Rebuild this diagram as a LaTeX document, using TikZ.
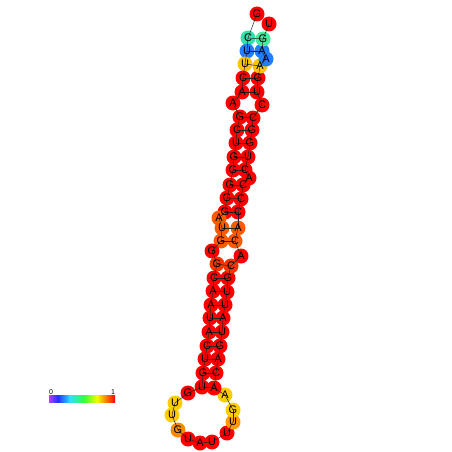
\documentclass[tikz,border=0pt]{standalone}
\usepackage{fontspec}
\setmainfont{Liberation Sans}
\usetikzlibrary{positioning}
\definecolor{Rd}{HTML}{FF0000}
\definecolor{RdOr}{HTML}{FF3300}
\definecolor{Or}{HTML}{FF5A00}
\definecolor{DkOr}{HTML}{FF8800}
\definecolor{LtOr}{HTML}{FF9C00}
\definecolor{Gold}{HTML}{FFC400}
\definecolor{Yel}{HTML}{FFCC00}
\definecolor{Teal}{HTML}{30E2A8}
\definecolor{Mint}{HTML}{40EE9C}
\definecolor{Azure}{HTML}{1E7FFF}
\tikzset{
  nt/.style={circle, inner sep=0pt, minimum size=15pt},
  ntlabel/.style={inner sep=0pt, font=\fontsize{11}{11}\selectfont},
  bond/.style={draw=black!85, line width=0.5pt},
  tick/.style={inner sep=0pt, font=\fontsize{7}{7}\selectfont}
}
\begin{document}
\begin{tikzpicture}[x=1pt,y=-1pt]
  \useasboundingbox (0,0) rectangle (452,452);
  % nucleotides
  \foreach \i/\px/\py/\col in {
      1/257/14/Rd, 2/248/38/Teal, 3/247/51/Azure, 4/245/64/Gold,
      5/243/78/Rd, 6/242/92/Rd, 7/233/103/Rd, 8/240/117/Rd,
      9/237/130/Rd, 10/236/143/Rd, 11/234/157/Rd, 12/233/170/Rd,
      13/230/185/Rd, 14/227/198/Rd, 15/225/212/Rd, 16/219/218/Or,
      17/222/228/Or, 18/221/241/Or, 19/212/251/Rd, 20/217/264/RdOr,
      21/214/278/Rd, 22/213/291/Rd, 23/211/305/Rd, 24/210/318/Rd,
      25/209/332/Rd, 26/207/346/Rd, 27/205/359/Rd, 28/203/373/Rd,
      29/202/387/Rd, 30/188/393/Rd, 31/175/403/Yel, 32/172/415/Yel,
      33/178/430/DkOr, 34/188/439/Rd, 35/200/443/Rd, 36/212/442/Rd,
      37/227/433/Rd, 38/233/422/LtOr, 39/233/410/Yel, 40/225/395/Yel,
      41/214/388/Rd, 42/216/373/Rd, 43/218/359/Rd, 44/220/346/Rd,
      45/222/332/Rd, 46/223/318/Rd, 47/225/305/Rd, 48/227/292/Rd,
      49/228/278/Rd, 50/231/266/RdOr, 51/241/256/Rd, 52/235/241/Or,
      53/238/228/Or, 54/238/212/Rd, 55/241/199/Rd, 56/243/185/Rd,
      57/249/178/Rd, 58/245/170/Rd, 59/248/157/Rd, 60/250/143/Rd,
      61/252/130/Rd, 62/253/118/Rd, 63/262/105/Rd, 64/257/92/Rd,
      65/258/78/Rd, 66/260/66/Gold, 67/266/59/Azure, 68/262/51/Azure,
      69/263/39/Mint, 70/269/24/Rd}
    \node[nt, fill=\col] (n\i) at (\px,\py) {};
  % backbone
  \foreach \i [evaluate=\i as \j using int(\i+1)] in {1,...,69}
    \draw[bond] (n\i.center) -- (n\j.center);
  % base pairs
  \foreach \a/\b in {2/69, 3/68, 4/66, 5/65, 6/64, 8/62, 9/61, 10/60,
      11/59, 12/58, 13/56, 14/55, 15/54, 17/53, 18/52, 20/50, 21/49,
      22/48, 23/47, 24/46, 25/45, 26/44, 27/43, 28/42, 29/41}
    \draw[bond] (n\a.center) -- (n\b.center);
  % letters
  \foreach \i/\s in {1/G, 2/C, 3/U, 4/U, 5/C, 6/A, 7/A, 8/G, 9/C, 10/U,
      11/G, 12/G, 13/G, 14/G, 15/G, 16/A, 17/U, 18/G, 19/G, 20/G,
      21/C, 22/A, 23/A, 24/U, 25/A, 26/C, 27/U, 28/G, 29/U, 30/G,
      31/U, 32/U, 33/G, 34/U, 35/A, 36/U, 37/U, 38/U, 39/G, 40/A,
      41/A, 42/C, 43/A, 44/G, 45/U, 46/A, 47/U, 48/U, 49/G, 50/C,
      51/A, 52/C, 53/A, 54/C, 55/C, 56/C, 57/A, 58/C, 59/U, 60/G,
      61/G, 62/C, 63/C, 64/U, 65/G, 66/A, 67/A, 68/A, 69/G, 70/U}
    \node[ntlabel] (l\i) at (n\i) {\s};
  % colour scale
  \shade[left color={rgb,255:red,176;green,64;blue,255}, right color={rgb,255:red,32;green,48;blue,255}] (49,395) rectangle (58,402);
  \shade[left color={rgb,255:red,32;green,48;blue,255}, right color={rgb,255:red,48;green,224;blue,255}] (57.8,395) rectangle (70,402);
  \shade[left color={rgb,255:red,48;green,224;blue,255}, right color={rgb,255:red,48;green,255;blue,64}] (69.8,395) rectangle (84,402);
  \shade[left color={rgb,255:red,48;green,255;blue,64}, right color={rgb,255:red,240;green,255;blue,0}] (83.8,395) rectangle (97,402);
  \shade[left color={rgb,255:red,240;green,255;blue,0}, right color={rgb,255:red,255;green,0;blue,0}] (96.8,395) rectangle (115,402);
  \node[tick, anchor=south] (lo) at (51,394.5) {0};
  \node[tick, anchor=south] (hi) at (113,394.5) {1};
\end{tikzpicture}
\end{document}
